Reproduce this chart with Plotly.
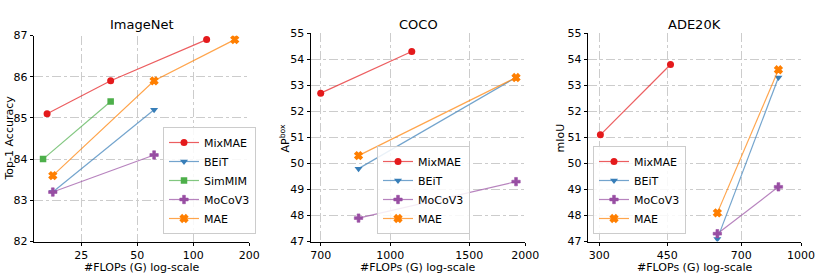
import numpy as np
import plotly.graph_objects as go

# ---------------- data ----------------
methods = ["MixMAE", "BEiT", "SimMIM", "MoCoV3", "MAE"]

# ImageNet: FLOPs (G) and Top-1 accuracy
in_mixmae_x = [16.4, 36.0, 118.0]
in_mixmae_y = [85.1, 85.9, 86.9]
in_beit_x = [17.6, 61.6]
in_beit_y = [83.2, 85.2]
in_simmim_x = [15.6, 36.0]
in_simmim_y = [84.0, 85.4]
in_mocov3_x = [17.6, 61.6]
in_mocov3_y = [83.2, 84.1]
in_mae_x = [17.6, 61.6, 167.0]
in_mae_y = [83.6, 85.9, 86.9]

# COCO: FLOPs (G) and AP^box
coco_mixmae_x = [700, 1117]
coco_mixmae_y = [52.7, 54.3]
coco_beit_x = [850, 1907]
coco_beit_y = [49.8, 53.3]
coco_mocov3_x = [850, 1907]
coco_mocov3_y = [47.9, 49.3]
coco_mae_x = [850, 1907]
coco_mae_y = [50.3, 53.3]

# ADE20K: FLOPs (G) and mIoU
ade_mixmae_x = [302, 459]
ade_mixmae_y = [51.1, 53.8]
ade_beit_x = [607, 874]
ade_beit_y = [47.1, 53.3]
ade_mocov3_x = [607, 874]
ade_mocov3_y = [47.3, 49.1]
ade_mae_x = [607, 874]
ade_mae_y = [48.1, 53.6]

in_ticks = [25, 50, 100, 200]
coco_ticks = [700, 1000, 1500, 2000]
ade_ticks = [300, 450, 700, 1000]

# ---------------- style ----------------
colors = {"MixMAE": (228, 26, 28), "BEiT": (55, 126, 184), "SimMIM": (77, 175, 74),
          "MoCoV3": (152, 78, 163), "MAE": (255, 127, 0)}
symbols = {"MixMAE": "circle", "BEiT": "triangle-down", "SimMIM": "square",
           "MoCoV3": "cross", "MAE": "x"}
msize = {"MixMAE": 7, "BEiT": 7, "SimMIM": 6.5, "MoCoV3": 7, "MAE": 6.5}
mline = {"MixMAE": 0, "BEiT": 0, "SimMIM": 0, "MoCoV3": 0.6, "MAE": 1.4}
FONT = "DejaVu Sans"

fig = go.Figure()

def add(name, x, y, xa, ya, leg):
    r, g, b = colors[name]
    fig.add_trace(go.Scatter(
        x=x, y=y, mode="lines+markers", name=name,
        xaxis=xa, yaxis=ya, legend=leg,
        line=dict(color=f"rgba({r},{g},{b},0.7)", width=1.2),
        marker=dict(color=f"rgb({r},{g},{b})", symbol=symbols[name], size=msize[name],
                    line=dict(width=mline[name], color=f"rgb({r},{g},{b})")),
    ))

add("MixMAE", in_mixmae_x, in_mixmae_y, "x", "y", "legend")
add("BEiT", in_beit_x, in_beit_y, "x", "y", "legend")
add("SimMIM", in_simmim_x, in_simmim_y, "x", "y", "legend")
add("MoCoV3", in_mocov3_x, in_mocov3_y, "x", "y", "legend")
add("MAE", in_mae_x, in_mae_y, "x", "y", "legend")

add("MixMAE", coco_mixmae_x, coco_mixmae_y, "x2", "y2", "legend2")
add("BEiT", coco_beit_x, coco_beit_y, "x2", "y2", "legend2")
add("MoCoV3", coco_mocov3_x, coco_mocov3_y, "x2", "y2", "legend2")
add("MAE", coco_mae_x, coco_mae_y, "x2", "y2", "legend2")

add("MixMAE", ade_mixmae_x, ade_mixmae_y, "x3", "y3", "legend3")
add("BEiT", ade_beit_x, ade_beit_y, "x3", "y3", "legend3")
add("MoCoV3", ade_mocov3_x, ade_mocov3_y, "x3", "y3", "legend3")
add("MAE", ade_mae_x, ade_mae_y, "x3", "y3", "legend3")

W, H = 830, 277
def px(v):
    return v / W
def py(v):
    return (H - v) / H

grid = dict(showgrid=True, gridcolor="#cccccc", griddash="dashdot", gridwidth=1)
common_x = dict(type="log", showline=True, linecolor="black", linewidth=1,
                ticks="outside", ticklen=3, tickcolor="black", automargin=False,
                tickfont=dict(size=11, family=FONT, color="black"),
                zeroline=False, **grid)
common_y = dict(showline=True, linecolor="black", linewidth=1, automargin=False,
                ticks="outside", ticklen=3.5, tickcolor="black",
                tickfont=dict(size=11, family=FONT, color="black"),
                zeroline=False, dtick=1, **grid)

ax = [(34.3, 249.3, 35.5), (311, 525.3, 33.3), (588.3, 801, 33.3)]
fig.update_layout(
    width=W, height=H, margin=dict(l=0, r=0, t=0, b=0),
    plot_bgcolor="white", paper_bgcolor="white",
    font=dict(family=FONT, color="black"),
    xaxis=dict(domain=[px(ax[0][0]), px(ax[0][1])], range=[np.log10(14), np.log10(200)],
               tickvals=in_ticks, ticktext=[str(t) for t in in_ticks], anchor="y", **common_x),
    yaxis=dict(domain=[py(241.5), py(ax[0][2])], range=[82, 87], anchor="x", **common_y),
    xaxis2=dict(domain=[px(ax[1][0]), px(ax[1][1])], range=[np.log10(666), np.log10(2000)],
                tickvals=coco_ticks, ticktext=[str(t) for t in coco_ticks], anchor="y2", **common_x),
    yaxis2=dict(domain=[py(241.5), py(ax[1][2])], range=[47, 55], anchor="x2", **common_y),
    xaxis3=dict(domain=[px(ax[2][0]), px(ax[2][1])], range=[np.log10(281), 3],
                tickvals=ade_ticks, ticktext=[str(t) for t in ade_ticks], anchor="y3", **common_x),
    yaxis3=dict(domain=[py(241.5), py(ax[2][2])], range=[47, 55], anchor="x3", **common_y),
)

leg_common = dict(bgcolor="rgba(255,255,255,0.85)", bordercolor="#cccccc", borderwidth=1,
                  font=dict(size=11, family=FONT, color="black"), xanchor="left", yanchor="bottom",
                  tracegroupgap=0, itemwidth=30)
fig.update_layout(
    legend=dict(x=px(163), y=py(234), **leg_common),
    legend2=dict(x=px(377), y=py(234), **leg_common),
    legend3=dict(x=px(593), y=py(234), **leg_common),
)

titles = ["ImageNet", "COCO", "ADE20K"]
ytitles = ["Top-1 Accuracy", "AP<sup>box</sup>", "mIoU"]
ytitle_x = [9, 285, 560]
for i, (t, yt) in enumerate(zip(titles, ytitles)):
    cx = (ax[i][0] + ax[i][1]) / 2
    fig.add_annotation(text=t, x=px(cx), y=py(24), xref="paper", yref="paper",
                       showarrow=False, xanchor="center", yanchor="middle",
                       font=dict(size=13, family=FONT, color="black"))
    fig.add_annotation(text="#FLOPs (G) log-scale", x=px(cx), y=py(267), xref="paper", yref="paper",
                       showarrow=False, xanchor="center", yanchor="middle",
                       font=dict(size=11, family=FONT, color="black"))
    fig.add_annotation(text=yt, x=px(ytitle_x[i]), y=py(138.5), xref="paper", yref="paper",
                       showarrow=False, xanchor="center", yanchor="middle", textangle=-90,
                       font=dict(size=11, family=FONT, color="black"))

fig.write_html("out.html", config={"displayModeBar": False},
               post_script="document.body.style.margin='0';document.body.style.padding='0';")
